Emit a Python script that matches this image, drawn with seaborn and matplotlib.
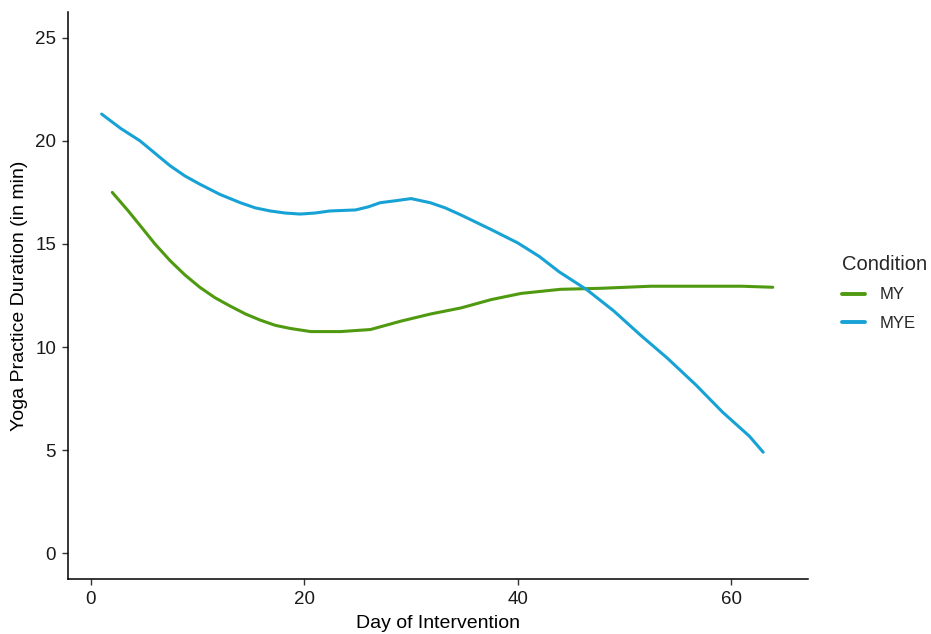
import matplotlib
matplotlib.use("Agg")
import matplotlib.pyplot as plt
import seaborn as sns
import pandas as pd

days_my = [2.0, 3.5, 4.6, 6.0, 7.4, 8.8, 10.2, 11.6, 13.0, 14.5, 15.9, 17.3, 18.7, 20.6, 23.4, 26.2, 29.0, 31.8, 34.7, 37.5, 40.3, 44.0, 47.8, 52.5, 57.2, 61.0, 63.9]
vals_my = [17.5, 16.6, 15.9, 15.0, 14.2, 13.5, 12.9, 12.4, 12.0, 11.6, 11.3, 11.05, 10.9, 10.75, 10.75, 10.85, 11.25, 11.6, 11.9, 12.3, 12.6, 12.8, 12.85, 12.95, 12.95, 12.95, 12.9]

days_mye = [1.0, 2.8, 4.6, 6.0, 7.4, 8.8, 10.2, 12.1, 14.0, 15.4, 16.8, 18.2, 19.6, 21.0, 22.4, 24.8, 26.0, 27.1, 28.6, 30.0, 31.8, 33.2, 34.7, 37.5, 40.0, 42.0, 43.9, 46.5, 49.0, 51.5, 54.0, 56.7, 59.2, 61.7, 63.0]
vals_mye = [21.3, 20.6, 20.0, 19.4, 18.8, 18.3, 17.9, 17.4, 17.0, 16.75, 16.6, 16.5, 16.45, 16.5, 16.6, 16.65, 16.8, 17.0, 17.1, 17.2, 17.0, 16.75, 16.4, 15.7, 15.05, 14.4, 13.64, 12.77, 11.75, 10.58, 9.47, 8.16, 6.84, 5.68, 4.9]

conditions = ["MY", "MYE"]
colors = {"MY": "#4f9a10", "MYE": "#17a2d6"}

df = pd.concat([
    pd.DataFrame({"Day": days_my, "Duration": vals_my, "Condition": "MY"}),
    pd.DataFrame({"Day": days_mye, "Duration": vals_mye, "Condition": "MYE"}),
])

sns.set_style("white")
plt.rcParams['font.family'] = ['Liberation Sans', 'DejaVu Sans']

fig = plt.figure(figsize=(9.31, 6.34), dpi=100)
ax = fig.add_axes([68 / 931, 1 - 579 / 634, 740 / 931, 567 / 634])

sns.lineplot(data=df, x="Day", y="Duration", hue="Condition", hue_order=conditions,
             palette=colors, linewidth=2.2, ax=ax, estimator=None, sort=True)

ax.set_xlim(-2.15, 67.2)
ax.set_ylim(-1.25, 26.25)
ax.set_xticks([0, 20, 40, 60])
ax.set_yticks([0, 5, 10, 15, 20, 25])
ax.tick_params(axis='both', labelsize=13.5, colors='#333333', labelcolor='#1a1a1a',
               length=4, width=1, direction='out', bottom=True, left=True, pad=4.5)
ax.set_xlabel("Day of Intervention", fontsize=14, labelpad=5.5, color='black')
ax.set_ylabel("Yoga Practice Duration (in min)", fontsize=14, labelpad=5, color='black')
for s in ["top", "right"]:
    ax.spines[s].set_visible(False)
for s in ["left", "bottom"]:
    ax.spines[s].set_color("black")
    ax.spines[s].set_linewidth(1.1)

h, l = ax.get_legend_handles_labels()
ax.get_legend().remove()
leg = fig.legend(h, l, title="Condition", loc="center left", bbox_to_anchor=(842 / 931, 1 - 293 / 634),
                 frameon=False, fontsize=12, title_fontsize=14.5, handlelength=1.4,
                 handletextpad=0.85, labelspacing=0.8, borderpad=0, borderaxespad=0)
leg._legend_box.align = "left"
for line in leg.get_lines():
    line.set_linewidth(2.8)

fig.savefig("out.png", dpi=100)
